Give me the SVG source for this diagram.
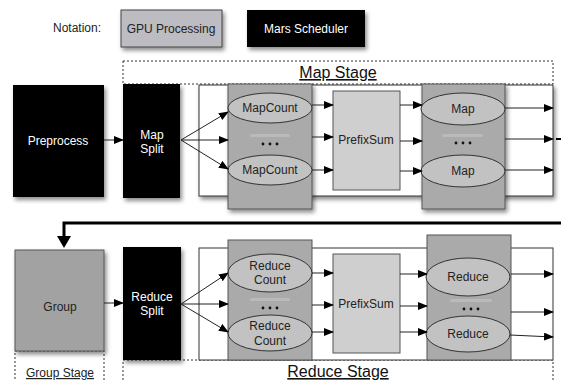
<svg xmlns="http://www.w3.org/2000/svg" width="561" height="381" viewBox="0 0 561 381">
  <style>
    text { font-family: "Liberation Sans", Arial, sans-serif; font-size: 12px; text-anchor: middle; }
    .wt { fill: #ffffff; }
    .dk { fill: #222222; }
    .stage { font-size: 16px; fill: #111111; text-decoration: underline; }
    .sched { fill: #050505; }
    .panel { fill: #ffffff; stroke: #333333; stroke-width: 1; }
    .col { fill: #aaaaaa; stroke: #555555; stroke-width: 1; }
    .ell { fill: #c2c2c2; stroke: #333333; stroke-width: 1; }
    .psum { fill: #cfcfcf; stroke: #555555; stroke-width: 1; }
    .dash { fill: #ffffff; stroke: #333333; stroke-width: 1; stroke-dasharray: 2 2; }
    .hl { fill: #bababa; }
    .dot { fill: #111111; }
    .arr { fill: none; stroke: #222222; stroke-width: 1; marker-end: url(#ah); }
    .thick { fill: none; stroke: #000000; stroke-width: 3; }
  </style>
  <defs>
    <filter id="sh" x="-20%" y="-20%" width="150%" height="150%">
      <feDropShadow dx="2" dy="3" stdDeviation="2" flood-color="#000000" flood-opacity="0.45"/>
    </filter>
    <marker id="ah" markerUnits="userSpaceOnUse" markerWidth="10" markerHeight="8" refX="9" refY="4" orient="auto">
      <path d="M0,0 L10,4 L0,8 Z" fill="#000000"/>
    </marker>
  </defs>

  <!-- legend -->
  <g id="legend">
    <text x="77" y="32" class="dk">Notation:</text>
    <rect x="121" y="10" width="101" height="37" fill="#bcbcc2" stroke="#444444" filter="url(#sh)"/>
    <text x="171" y="33" class="dk">GPU Processing</text>
    <rect x="247" y="10" width="118" height="37" class="sched" filter="url(#sh)"/>
    <text x="306" y="33" class="wt">Mars Scheduler</text>
  </g>

  <!-- stage frames -->
  <g id="map-stage">
    <rect x="123" y="61" width="430" height="23" class="dash"/>
    <text x="338" y="78" class="stage">Map Stage</text>
  </g>
  <g id="reduce-stage">
    <rect x="123" y="360" width="430" height="26" class="dash"/>
    <text x="338" y="377" class="stage">Reduce Stage</text>
  </g>
  <g id="group-stage">
    <rect x="15" y="351" width="89" height="35" class="dash"/>
    <text x="60" y="377" class="dk" style="text-decoration: underline;">Group Stage</text>
  </g>

  <!-- map row -->
  <g id="preprocess">
    <rect x="13" y="85" width="91" height="112" class="sched" filter="url(#sh)"/>
    <text x="58" y="145" class="wt">Preprocess</text>
  </g>
  <g id="map-split">
    <rect x="123" y="84" width="57" height="114" class="sched" filter="url(#sh)"/>
    <text x="152" y="139" class="wt">Map</text>
    <text x="152" y="153" class="wt">Split</text>
  </g>
  <g id="map-panel">
    <rect x="199" y="85" width="354" height="111" class="panel" filter="url(#sh)"/>
  </g>
  <g id="mapcount">
    <rect x="228" y="84" width="84" height="125" class="col" filter="url(#sh)"/>
    <ellipse cx="270" cy="108" rx="42" ry="15" class="ell"/>
    <text x="270" y="112" class="dk">MapCount</text>
    <rect x="250" y="134" width="40" height="3" rx="1.5" class="hl"/>
    <circle cx="263" cy="144" r="1.4" class="dot"/>
    <circle cx="270" cy="144" r="1.4" class="dot"/>
    <circle cx="277" cy="144" r="1.4" class="dot"/>
    <ellipse cx="270" cy="170" rx="42" ry="15" class="ell"/>
    <text x="270" y="174" class="dk">MapCount</text>
  </g>
  <g id="map-prefixsum">
    <rect x="333" y="91" width="67" height="99" class="psum"/>
    <text x="366" y="144" class="dk">PrefixSum</text>
  </g>
  <g id="map">
    <rect x="422" y="84" width="83" height="125" class="col" filter="url(#sh)"/>
    <ellipse cx="463" cy="109" rx="42" ry="16" class="ell"/>
    <text x="463" y="113" class="dk">Map</text>
    <rect x="442" y="134" width="41" height="3" rx="1.5" class="hl"/>
    <circle cx="456" cy="143" r="1.4" class="dot"/>
    <circle cx="463" cy="143" r="1.4" class="dot"/>
    <circle cx="470" cy="143" r="1.4" class="dot"/>
    <ellipse cx="463" cy="171" rx="42" ry="16" class="ell"/>
    <text x="463" y="175" class="dk">Map</text>
  </g>

  <!-- reduce row -->
  <g id="group">
    <rect x="15" y="250" width="89" height="101" fill="#a2a2a2" stroke="#555555" filter="url(#sh)"/>
    <text x="60" y="311" class="dk">Group</text>
  </g>
  <g id="reduce-split">
    <rect x="123" y="247" width="58" height="113" class="sched" filter="url(#sh)"/>
    <text x="152" y="301" class="wt">Reduce</text>
    <text x="152" y="315" class="wt">Split</text>
  </g>
  <g id="reduce-panel">
    <rect x="199" y="248" width="354" height="112" class="panel"/>
  </g>
  <g id="reducecount">
    <rect x="228" y="240" width="84" height="120" class="col"/>
    <ellipse cx="270" cy="273" rx="42" ry="19" class="ell"/>
    <text x="270" y="270" class="dk">Reduce</text>
    <text x="270" y="284" class="dk">Count</text>
    <rect x="250" y="298" width="40" height="3" rx="1.5" class="hl"/>
    <circle cx="263" cy="308" r="1.4" class="dot"/>
    <circle cx="270" cy="308" r="1.4" class="dot"/>
    <circle cx="277" cy="308" r="1.4" class="dot"/>
    <ellipse cx="270" cy="333" rx="42" ry="18" class="ell"/>
    <text x="270" y="330" class="dk">Reduce</text>
    <text x="270" y="345" class="dk">Count</text>
  </g>
  <g id="reduce-prefixsum">
    <rect x="333" y="254" width="67" height="99" class="psum"/>
    <text x="366" y="308" class="dk">PrefixSum</text>
  </g>
  <g id="reduce">
    <rect x="427" y="235" width="84" height="125" class="col"/>
    <ellipse cx="468" cy="277" rx="42" ry="19" class="ell"/>
    <text x="468" y="281" class="dk">Reduce</text>
    <rect x="450" y="299" width="42" height="3" rx="1.5" class="hl"/>
    <circle cx="464" cy="309" r="1.4" class="dot"/>
    <circle cx="471" cy="309" r="1.4" class="dot"/>
    <circle cx="478" cy="309" r="1.4" class="dot"/>
    <ellipse cx="468" cy="334" rx="42" ry="18" class="ell"/>
    <text x="468" y="338" class="dk">Reduce</text>
  </g>

  <!-- connectors -->
  <g id="connectors">
    <line x1="104" y1="140" x2="123" y2="140" class="arr"/>
    <line x1="181" y1="140" x2="228" y2="112" class="arr"/>
    <line x1="181" y1="140" x2="228" y2="140" class="arr"/>
    <line x1="181" y1="140" x2="228" y2="169" class="arr"/>
    <line x1="312" y1="105" x2="333" y2="105" class="arr"/>
    <line x1="312" y1="137" x2="333" y2="137" class="arr"/>
    <line x1="312" y1="170" x2="333" y2="170" class="arr"/>
    <line x1="400" y1="105" x2="422" y2="105" class="arr"/>
    <line x1="400" y1="141" x2="422" y2="141" class="arr"/>
    <line x1="400" y1="171" x2="422" y2="171" class="arr"/>
    <line x1="505" y1="108" x2="553" y2="108" class="arr"/>
    <line x1="505" y1="139" x2="553" y2="139" class="arr"/>
    <line x1="505" y1="170" x2="553" y2="170" class="arr"/>
    <line x1="556" y1="139" x2="561" y2="139" stroke="#000000" stroke-width="2"/>

    <path d="M561,223 H64 V237" class="thick"/>
    <path d="M57,236 L71,236 L64,248 Z" fill="#000000"/>

    <line x1="104" y1="303" x2="123" y2="303" class="arr"/>
    <line x1="181" y1="304" x2="228" y2="273" class="arr"/>
    <line x1="181" y1="304" x2="228" y2="304" class="arr"/>
    <line x1="181" y1="304" x2="228" y2="332" class="arr"/>
    <line x1="312" y1="273" x2="333" y2="273" class="arr"/>
    <line x1="312" y1="305" x2="333" y2="305" class="arr"/>
    <line x1="312" y1="332" x2="333" y2="332" class="arr"/>
    <line x1="400" y1="274" x2="427" y2="274" class="arr"/>
    <line x1="400" y1="306" x2="427" y2="306" class="arr"/>
    <line x1="400" y1="332" x2="427" y2="332" class="arr"/>
    <line x1="511" y1="274" x2="553" y2="274" class="arr"/>
    <line x1="511" y1="312" x2="553" y2="312" class="arr"/>
    <line x1="510" y1="335" x2="553" y2="337" class="arr"/>
  </g>
</svg>
